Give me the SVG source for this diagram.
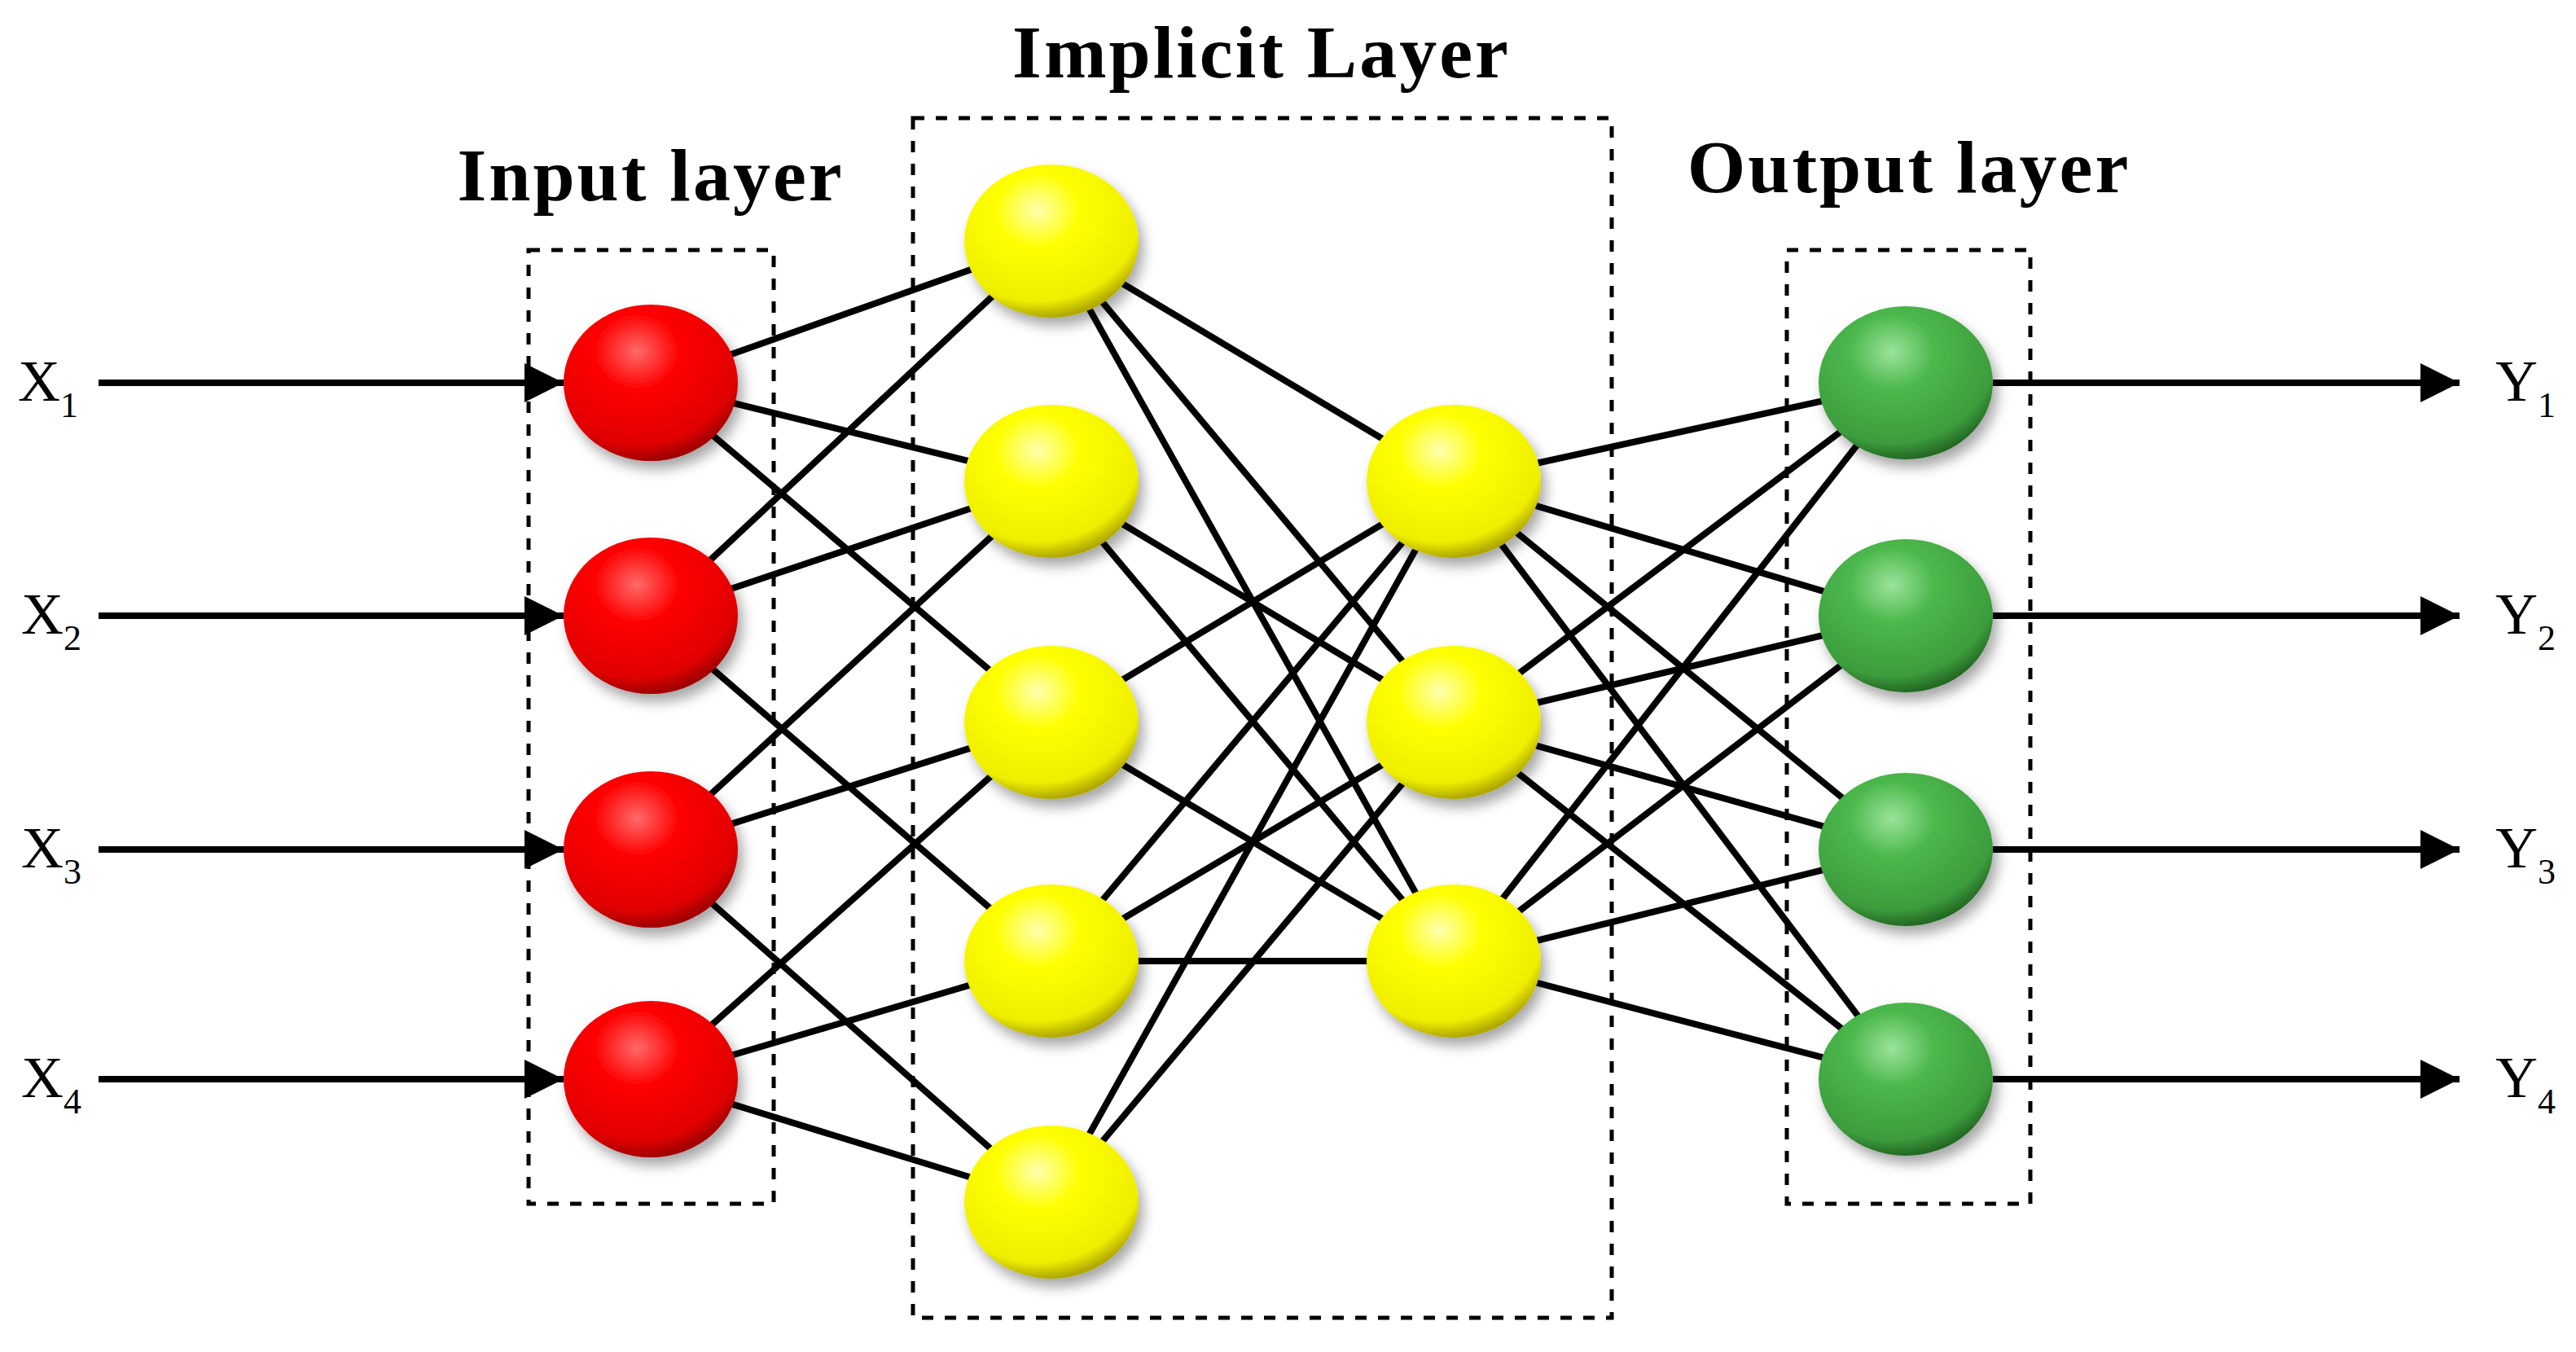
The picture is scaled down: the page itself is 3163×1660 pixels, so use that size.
<svg xmlns="http://www.w3.org/2000/svg" width="3163" height="1660" viewBox="0 0 3163 1660">
<style>
.c{stroke:#000;stroke-width:8;fill:none}
.a{stroke:#000;stroke-width:8;fill:none}
.box{stroke:#000;stroke-width:5;stroke-dasharray:14 14;fill:none}
.t{font-family:"Liberation Serif",serif;font-weight:bold;font-size:92px;text-anchor:middle;letter-spacing:3px}
.l{font-family:"Liberation Serif",serif;font-size:72px}
.s{font-size:44px}
</style>
<defs>
<radialGradient id="gr" cx="0.42" cy="0.3" r="0.7"><stop offset="0" stop-color="#ff6a6a"/><stop offset="0.35" stop-color="#ff0000"/><stop offset="0.85" stop-color="#e00000"/><stop offset="1" stop-color="#a00000"/></radialGradient>
<radialGradient id="gy" cx="0.42" cy="0.3" r="0.7"><stop offset="0" stop-color="#ffffb0"/><stop offset="0.35" stop-color="#ffff00"/><stop offset="0.85" stop-color="#eeee00"/><stop offset="1" stop-color="#b0a800"/></radialGradient>
<radialGradient id="gg" cx="0.42" cy="0.3" r="0.7"><stop offset="0" stop-color="#9be39b"/><stop offset="0.35" stop-color="#4cb84c"/><stop offset="0.85" stop-color="#3c9c3c"/><stop offset="1" stop-color="#246a24"/></radialGradient>
<filter id="sh" x="-30%" y="-30%" width="160%" height="160%"><feDropShadow dx="6" dy="10" stdDeviation="8" flood-color="#000" flood-opacity="0.35"/></filter>
<marker id="ar" viewBox="0 0 10 10" refX="10" refY="5" markerWidth="6" markerHeight="6" markerUnits="strokeWidth" orient="auto"><path d="M0,0L10,5L0,10z"/></marker>
</defs>
<g id="titles">
<text class="t" x="799" y="246">Input layer</text>
<text class="t" x="1549" y="95">Implicit Layer</text>
<text class="t" x="2344" y="236">Output layer</text>
</g>
<g id="boxes">
<rect class="box" x="649" y="307" width="301" height="1171"/>
<rect class="box" x="1121" y="145" width="858" height="1473"/>
<rect class="box" x="2194" y="307" width="299" height="1171"/>
</g>
<g id="connectors">
<line class="a" x1="121" y1="470" x2="692" y2="470" marker-end="url(#ar)"/>
<line class="a" x1="121" y1="756" x2="692" y2="756" marker-end="url(#ar)"/>
<line class="a" x1="121" y1="1043" x2="692" y2="1043" marker-end="url(#ar)"/>
<line class="a" x1="121" y1="1325" x2="692" y2="1325" marker-end="url(#ar)"/>
<line class="a" x1="2447" y1="470" x2="3020" y2="470" marker-end="url(#ar)"/>
<line class="a" x1="2447" y1="756" x2="3020" y2="756" marker-end="url(#ar)"/>
<line class="a" x1="2447" y1="1043" x2="3020" y2="1043" marker-end="url(#ar)"/>
<line class="a" x1="2447" y1="1325" x2="3020" y2="1325" marker-end="url(#ar)"/>
<path class="c" d="M799,470L1291,296M799,470L1291,591M799,470L1291,887
M799,756L1291,296M799,756L1291,591M799,756L1291,1180
M799,1043L1291,591M799,1043L1291,887M799,1043L1291,1476
M799,1325L1291,887M799,1325L1291,1180M799,1325L1291,1476
M1291,296L1785,591M1291,296L1785,887M1291,296L1785,1180
M1291,591L1785,887M1291,591L1785,1180
M1291,887L1785,591M1291,887L1785,1180
M1291,1180L1785,591M1291,1180L1785,887M1291,1180L1785,1180
M1291,1476L1785,591M1291,1476L1785,887
M1785,591L2340,470M1785,591L2340,756M1785,591L2340,1043M1785,591L2340,1325
M1785,887L2340,470M1785,887L2340,756M1785,887L2340,1043M1785,887L2340,1325
M1785,1180L2340,470M1785,1180L2340,756M1785,1180L2340,1043M1785,1180L2340,1325"/>
</g>
<g id="in1"><ellipse cx="799" cy="470" rx="107" ry="96" fill="url(#gr)" filter="url(#sh)"/></g>
<g id="in2"><ellipse cx="799" cy="756" rx="107" ry="96" fill="url(#gr)" filter="url(#sh)"/></g>
<g id="in3"><ellipse cx="799" cy="1043" rx="107" ry="96" fill="url(#gr)" filter="url(#sh)"/></g>
<g id="in4"><ellipse cx="799" cy="1325" rx="107" ry="96" fill="url(#gr)" filter="url(#sh)"/></g>
<g id="h1"><ellipse cx="1291" cy="296" rx="107" ry="94" fill="url(#gy)" filter="url(#sh)"/></g>
<g id="h2"><ellipse cx="1291" cy="591" rx="107" ry="94" fill="url(#gy)" filter="url(#sh)"/></g>
<g id="h3"><ellipse cx="1291" cy="887" rx="107" ry="94" fill="url(#gy)" filter="url(#sh)"/></g>
<g id="h4"><ellipse cx="1291" cy="1180" rx="107" ry="94" fill="url(#gy)" filter="url(#sh)"/></g>
<g id="h5"><ellipse cx="1291" cy="1476" rx="107" ry="94" fill="url(#gy)" filter="url(#sh)"/></g>
<g id="g1"><ellipse cx="1785" cy="591" rx="107" ry="94" fill="url(#gy)" filter="url(#sh)"/></g>
<g id="g2"><ellipse cx="1785" cy="887" rx="107" ry="94" fill="url(#gy)" filter="url(#sh)"/></g>
<g id="g3"><ellipse cx="1785" cy="1180" rx="107" ry="94" fill="url(#gy)" filter="url(#sh)"/></g>
<g id="o1"><ellipse cx="2340" cy="470" rx="107" ry="94" fill="url(#gg)" filter="url(#sh)"/></g>
<g id="o2"><ellipse cx="2340" cy="756" rx="107" ry="94" fill="url(#gg)" filter="url(#sh)"/></g>
<g id="o3"><ellipse cx="2340" cy="1043" rx="107" ry="94" fill="url(#gg)" filter="url(#sh)"/></g>
<g id="o4"><ellipse cx="2340" cy="1325" rx="107" ry="94" fill="url(#gg)" filter="url(#sh)"/></g>
<g id="labels">
<text class="l" x="22" y="492">X<tspan class="s" dy="20">1</tspan></text>
<text class="l" x="26" y="778">X<tspan class="s" dy="20">2</tspan></text>
<text class="l" x="26" y="1065">X<tspan class="s" dy="20">3</tspan></text>
<text class="l" x="26" y="1347">X<tspan class="s" dy="20">4</tspan></text>
<text class="l" x="3064" y="492">Y<tspan class="s" dy="20">1</tspan></text>
<text class="l" x="3064" y="778">Y<tspan class="s" dy="20">2</tspan></text>
<text class="l" x="3064" y="1065">Y<tspan class="s" dy="20">3</tspan></text>
<text class="l" x="3064" y="1347">Y<tspan class="s" dy="20">4</tspan></text>
</g>
</svg>
